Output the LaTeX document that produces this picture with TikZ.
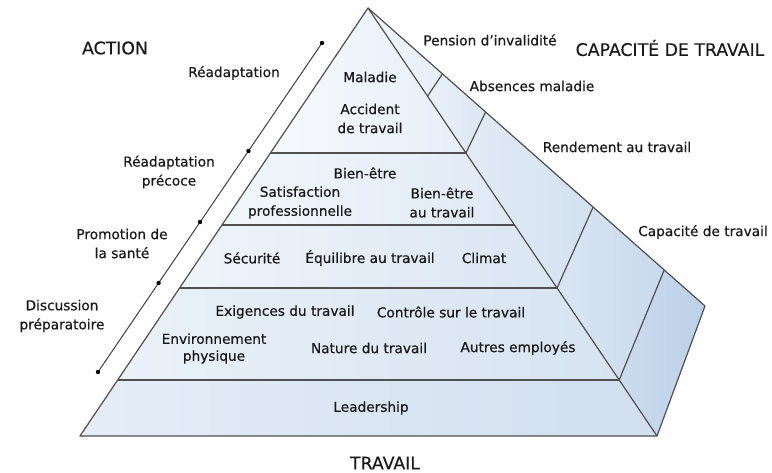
\documentclass[tikz,border=0pt]{standalone}
\usepackage{fontspec}
\setmainfont{DejaVu Sans}
\newfontfamily\lblfont[FakeBold=0.6]{DejaVu Sans}
\newfontfamily\headfont[FakeBold=0.3]{DejaVu Sans}
\usetikzlibrary{calc}
\definecolor{edge}{HTML}{505050}
\definecolor{txt}{HTML}{1A1A1A}
\definecolor{fa1}{HTML}{F7FAFD}\definecolor{fb1}{HTML}{E6EEF8}
\definecolor{fa2}{HTML}{F3F7FC}\definecolor{fb2}{HTML}{DFE9F5}
\definecolor{fa3}{HTML}{EFF4FA}\definecolor{fb3}{HTML}{DAE6F3}
\definecolor{fa4}{HTML}{EAF1F9}\definecolor{fb4}{HTML}{D6E3F1}
\definecolor{fa5}{HTML}{E5EDF7}\definecolor{fb5}{HTML}{D1DFEF}
\definecolor{sa1}{HTML}{F0F5FA}\definecolor{sb1}{HTML}{E6EEF7}
\definecolor{sa2}{HTML}{EAF1F9}\definecolor{sb2}{HTML}{DCE7F3}
\definecolor{sa3}{HTML}{E2EBF6}\definecolor{sb3}{HTML}{D3E1F0}
\definecolor{sa4}{HTML}{D9E5F2}\definecolor{sb4}{HTML}{C9DAED}
\definecolor{sa5}{HTML}{CCDCEE}\definecolor{sb5}{HTML}{BCD0E7}
\tikzset{
  lbl/.style={font=\lblfont\fontsize{13.7}{19}\selectfont, align=center, inner sep=0pt, text=txt},
  lbltight/.style={font=\lblfont\fontsize{13.7}{17}\selectfont, align=center, inner sep=0pt, text=txt},
  head/.style={font=\headfont\fontsize{17.3}{20}\selectfont, inner sep=0pt, text=txt},
  edgeline/.style={draw=edge, line width=1.2pt, line join=round},
  axisline/.style={draw=edge!80!black, line width=1pt},
  dot/.style={fill=black},
}
\begin{document}
\begin{tikzpicture}[x=1pt,y=-1pt]
\useasboundingbox (0,0) rectangle (772,473);
\coordinate (A) at (368,8);
\coordinate (L) at (80,436);
\coordinate (B) at (657,436);
\coordinate (O) at (705,306);
\coordinate (l1) at ($(A)!0.3388!(L)$);
\coordinate (r1) at ($(A)!0.3388!(B)$);
\coordinate (l2) at ($(A)!0.5070!(L)$);
\coordinate (r2) at ($(A)!0.5070!(B)$);
\coordinate (l3) at ($(A)!0.6542!(L)$);
\coordinate (r3) at ($(A)!0.6542!(B)$);
\coordinate (l4) at ($(A)!0.8692!(L)$);
\coordinate (r4) at ($(A)!0.8692!(B)$);
\coordinate (i1) at ($(A)!0.206!(B)$);
\coordinate (o1) at ($(A)!0.221!(O)$);
\coordinate (o2) at ($(A)!0.349!(O)$);
\coordinate (o3) at ($(A)!0.668!(O)$);
\coordinate (o4) at ($(A)!0.879!(O)$);
% front bands
\shade[left color=fa1, right color=fb1] (A) -- (r1) -- (l1) -- cycle;
\shade[left color=fa2, right color=fb2] (l1) -- (r1) -- (r2) -- (l2) -- cycle;
\shade[left color=fa3, right color=fb3] (l2) -- (r2) -- (r3) -- (l3) -- cycle;
\shade[left color=fa4, right color=fb4] (l3) -- (r3) -- (r4) -- (l4) -- cycle;
\shade[left color=fa5, right color=fb5] (l4) -- (r4) -- (B) -- (L) -- cycle;
% side segments
\shade[left color=sa1, right color=sb1] (A) -- (o1) -- (i1) -- cycle;
\shade[left color=sa2, right color=sb2] (i1) -- (o1) -- (o2) -- (r1) -- cycle;
\shade[left color=sa3, right color=sb3] (r1) -- (o2) -- (o3) -- (r3) -- cycle;
\shade[left color=sa4, right color=sb4] (r3) -- (o3) -- (o4) -- (r4) -- cycle;
\shade[left color=sa5, right color=sb5] (r4) -- (o4) -- (O) -- (B) -- cycle;
% outlines
\draw[edgeline] (A) -- (L) -- (B) -- cycle;
\draw[edgeline] (A) -- (O) -- (B);
\draw[edgeline] (l1) -- (r1);
\draw[edgeline] (l2) -- (r2);
\draw[edgeline] (l3) -- (r3);
\draw[edgeline] (l4) -- (r4);
\draw[edgeline] (i1) -- (o1);
\draw[edgeline] (r1) -- (o2);
\draw[edgeline] (r3) -- (o3);
\draw[edgeline] (r4) -- (o4);
% action axis
\coordinate (d1) at (322,43);
\coordinate (d2) at (248.5,151);
\coordinate (d3) at (200,222);
\coordinate (d4) at (158.6,283);
\coordinate (d5) at (98,372);
\draw[axisline] (d1) -- (d5);
\foreach \p in {d1,d2,d3,d4,d5}{\fill[dot] (\p) circle (2.2);}
% left labels
\node[head] (action) at (115,48) {ACTION};
\node[lbl] (readapt) at (234,73) {Réadaptation};
\node[lbl] (readaptp) at (169,172) {Réadaptation\\précoce};
\node[lbl] (promo) at (122,243.5) {Promotion de\\la santé};
\node[lbl] (discu) at (62,316) {Discussion\\préparatoire};
% right labels
\node[head] (capacite) at (670,48) {CAPACITÉ DE TRAVAIL};
\node[lbl] (pension) at (490,40) {Pension d’invalidité};
\node[lbl] (absences) at (532,86) {Absences maladie};
\node[lbl] (rendement) at (617,147) {Rendement au travail};
\node[lbl] (captrav) at (703,232) {Capacité de travail};
% pyramid contents
\node[lbl] (maladie) at (370,77) {Maladie};
\node[lbl] (accident) at (370,118.5) {Accident\\de travail};
\node[lbl] (bienetre) at (365,173) {Bien-être};
\node[lbl] (satisf) at (300,202.5) {Satisfaction\\professionnelle};
\node[lbl] (bienetret) at (442,202.5) {Bien-être\\au travail};
\node[lbl] (securite) at (252,258) {Sécurité};
\node[lbl] (equilibre) at (370,258) {Équilibre au travail};
\node[lbl] (climat) at (484,258) {Climat};
\node[lbl] (exigences) at (285,312) {Exigences du travail};
\node[lbl] (controle) at (451,312) {Contrôle sur le travail};
\node[lbltight] (environ) at (214,348.5) {Environnement\\physique};
\node[lbl] (nature) at (369,348) {Nature du travail};
\node[lbl] (autres) at (518,348) {Autres employés};
\node[lbl] (leader) at (371,408) {Leadership};
\node[head] (travail) at (385,463) {TRAVAIL};
\end{tikzpicture}
\end{document}
